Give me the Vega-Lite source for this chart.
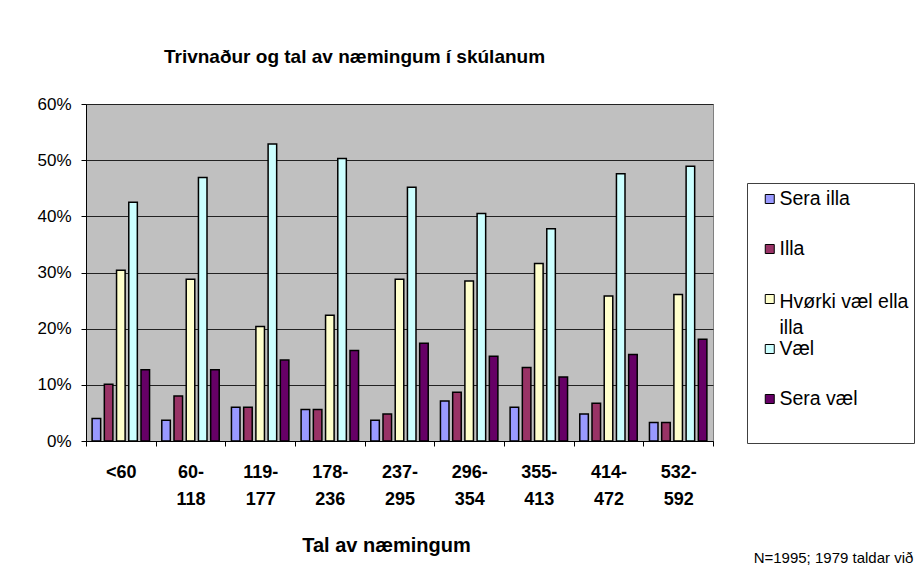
{
  "$schema": "https://vega.github.io/schema/vega-lite/v6.json",
  "width": 627,
  "height": 337,
  "autosize": {"type": "none"},
  "padding": {"left": 86, "top": 104, "right": 211, "bottom": 138},
  "background": "white",
  "config": {
    "font": "Liberation Sans",
    "view": {"fill": "#C0C0C0", "stroke": "#808080", "strokeWidth": 1}
  },
  "title": {
    "text": "Trivnaður og tal av næmingum í skúlanum",
    "fontSize": 19,
    "fontWeight": "bold",
    "color": "black",
    "anchor": "middle",
    "frame": "group",
    "dx": -45,
    "offset": 28
  },
  "data": {
    "values": [
      {"tal": "<60", "trivnadur": "Sera illa", "share": 0.040},
      {"tal": "<60", "trivnadur": "Illa", "share": 0.101},
      {"tal": "<60", "trivnadur": "Hvørki væl ella illa", "share": 0.304},
      {"tal": "<60", "trivnadur": "Væl", "share": 0.425},
      {"tal": "<60", "trivnadur": "Sera væl", "share": 0.127},
      {"tal": "60-118", "trivnadur": "Sera illa", "share": 0.037},
      {"tal": "60-118", "trivnadur": "Illa", "share": 0.080},
      {"tal": "60-118", "trivnadur": "Hvørki væl ella illa", "share": 0.288},
      {"tal": "60-118", "trivnadur": "Væl", "share": 0.469},
      {"tal": "60-118", "trivnadur": "Sera væl", "share": 0.127},
      {"tal": "119-177", "trivnadur": "Sera illa", "share": 0.060},
      {"tal": "119-177", "trivnadur": "Illa", "share": 0.060},
      {"tal": "119-177", "trivnadur": "Hvørki væl ella illa", "share": 0.204},
      {"tal": "119-177", "trivnadur": "Væl", "share": 0.529},
      {"tal": "119-177", "trivnadur": "Sera væl", "share": 0.144},
      {"tal": "178-236", "trivnadur": "Sera illa", "share": 0.056},
      {"tal": "178-236", "trivnadur": "Illa", "share": 0.056},
      {"tal": "178-236", "trivnadur": "Hvørki væl ella illa", "share": 0.224},
      {"tal": "178-236", "trivnadur": "Væl", "share": 0.503},
      {"tal": "178-236", "trivnadur": "Sera væl", "share": 0.161},
      {"tal": "237-295", "trivnadur": "Sera illa", "share": 0.037},
      {"tal": "237-295", "trivnadur": "Illa", "share": 0.048},
      {"tal": "237-295", "trivnadur": "Hvørki væl ella illa", "share": 0.288},
      {"tal": "237-295", "trivnadur": "Væl", "share": 0.452},
      {"tal": "237-295", "trivnadur": "Sera væl", "share": 0.174},
      {"tal": "296-354", "trivnadur": "Sera illa", "share": 0.071},
      {"tal": "296-354", "trivnadur": "Illa", "share": 0.087},
      {"tal": "296-354", "trivnadur": "Hvørki væl ella illa", "share": 0.285},
      {"tal": "296-354", "trivnadur": "Væl", "share": 0.405},
      {"tal": "296-354", "trivnadur": "Sera væl", "share": 0.151},
      {"tal": "355-413", "trivnadur": "Sera illa", "share": 0.060},
      {"tal": "355-413", "trivnadur": "Illa", "share": 0.131},
      {"tal": "355-413", "trivnadur": "Hvørki væl ella illa", "share": 0.316},
      {"tal": "355-413", "trivnadur": "Væl", "share": 0.378},
      {"tal": "355-413", "trivnadur": "Sera væl", "share": 0.114},
      {"tal": "414-472", "trivnadur": "Sera illa", "share": 0.048},
      {"tal": "414-472", "trivnadur": "Illa", "share": 0.067},
      {"tal": "414-472", "trivnadur": "Hvørki væl ella illa", "share": 0.258},
      {"tal": "414-472", "trivnadur": "Væl", "share": 0.476},
      {"tal": "414-472", "trivnadur": "Sera væl", "share": 0.154},
      {"tal": "532-592", "trivnadur": "Sera illa", "share": 0.033},
      {"tal": "532-592", "trivnadur": "Illa", "share": 0.033},
      {"tal": "532-592", "trivnadur": "Hvørki væl ella illa", "share": 0.261},
      {"tal": "532-592", "trivnadur": "Væl", "share": 0.489},
      {"tal": "532-592", "trivnadur": "Sera væl", "share": 0.181}
    ]
  },
  "layer": [
    {
      "mark": {"type": "bar", "stroke": "black", "strokeWidth": 1.5},
      "encoding": {
        "x": {
          "field": "tal",
          "type": "nominal",
          "sort": null,
          "scale": {"paddingInner": 0, "paddingOuter": 0},
          "axis": {
            "orient": "bottom",
            "title": "Tal av næmingum",
            "titleFontSize": 20,
            "titleFontWeight": "bold",
            "titleColor": "black",
            "titleX": 300,
            "titleY": 94,
            "labelAngle": 0,
            "labelFontSize": 18,
            "labelFontWeight": "bold",
            "labelColor": "black",
            "labelLineHeight": 27,
            "labelPadding": 17,
            "labelExpr": "indexof(datum.label, '-') > 0 ? [slice(datum.label, 0, indexof(datum.label, '-') + 1), slice(datum.label, indexof(datum.label, '-') + 1)] : datum.label",
            "tickBand": "extent",
            "tickSize": 5,
            "tickColor": "black",
            "domainColor": "black",
            "grid": false
          }
        },
        "xOffset": {
          "field": "trivnadur",
          "type": "nominal",
          "scale": {
            "domain": ["Sera illa", "Illa", "Hvørki væl ella illa", "Væl", "Sera væl"],
            "paddingInner": 0.3,
            "paddingOuter": 0.5
          }
        },
        "y": {
          "field": "share",
          "type": "quantitative",
          "scale": {"domain": [0, 0.6]},
          "axis": {
            "title": null,
            "values": [0, 0.1, 0.2, 0.3, 0.4, 0.5, 0.6],
            "format": ".0%",
            "labelFontSize": 17,
            "labelColor": "black",
            "labelPadding": 10,
            "tickSize": 5,
            "tickColor": "black",
            "domainColor": "black",
            "grid": true,
            "gridColor": "#222222",
            "gridOpacity": 1
          }
        },
        "color": {
          "field": "trivnadur",
          "type": "nominal",
          "scale": {
            "domain": ["Sera illa", "Illa", "Hvørki væl ella illa", "Væl", "Sera væl"],
            "range": ["#9999FF", "#993366", "#FFFFCC", "#CCFFFF", "#660066"]
          },
          "legend": {
            "title": null,
            "orient": "none",
            "legendX": 661,
            "legendY": 79,
            "padding": 5,
            "strokeColor": "#404040",
            "fillColor": "white",
            "symbolType": "square",
            "symbolSize": 81,
            "symbolStrokeColor": "black",
            "symbolStrokeWidth": 1,
            "symbolOffset": 8,
            "labelOffset": 0,
            "labelFontSize": 19.5,
            "labelColor": "black",
            "labelLimit": 300,
            "labelBaseline": "middle",
            "clipHeight": 50,
            "rowPadding": 0,
            "labelExpr": "datum.label == 'Hvørki væl ella illa' ? ['Hvørki væl ella', 'illa'] : datum.label",
            "encode": {
              "symbols": {"update": {"y": {"value": 11}}},
              "labels": {
                "update": {
                  "y": {"value": 11},
                  "lineHeight": {"value": 26},
                  "dy": {"signal": "datum.value == 'Hvørki væl ella illa' ? 3 : 0"}
                }
              }
            }
          }
        }
      }
    },
    {
      "mark": {"type": "point", "opacity": 0},
      "encoding": {
        "x": {
          "field": "tal",
          "type": "nominal",
          "sort": null,
          "axis": {
            "orient": "bottom",
            "title": "N=1995; 1979 taldar við",
            "titleFontSize": 15,
            "titleFontWeight": "normal",
            "titleColor": "black",
            "titleX": 747,
            "titleY": 109,
            "labels": false,
            "ticks": false,
            "domain": false,
            "grid": false
          }
        }
      }
    }
  ],
  "resolve": {"axis": {"x": "independent"}}
}
